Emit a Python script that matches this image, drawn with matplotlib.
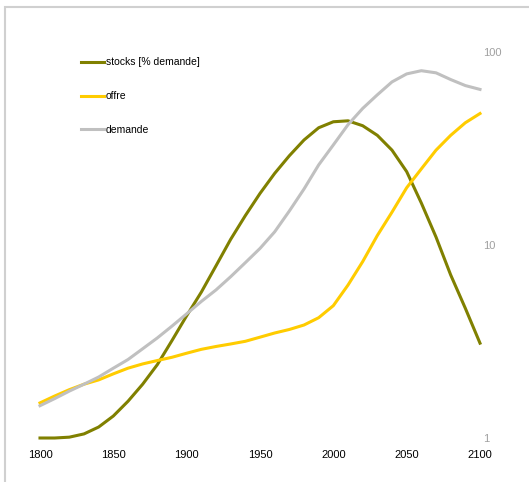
import matplotlib.pyplot as plt
from matplotlib.patches import Rectangle

plt.rcParams['font.family'] = ['Liberation Sans', 'DejaVu Sans']

years = list(range(1800, 2101, 10))
stocks = [1.0, 1.0, 1.01, 1.05, 1.14, 1.3, 1.55, 1.9, 2.4, 3.2, 4.3, 5.7, 7.8,
          10.7, 14.2, 18.5, 23.5, 29, 35, 40.5, 43.5, 44, 41.5, 37, 31, 24,
          16.5, 11, 7, 4.7, 3.1]
offre = [1.52, 1.65, 1.78, 1.9, 2.0, 2.15, 2.3, 2.42, 2.52, 2.62, 2.75, 2.88,
         2.98, 3.07, 3.17, 3.33, 3.5, 3.65, 3.85, 4.2, 4.85, 6.2, 8.2, 11.2,
         14.8, 19.8, 24.8, 31, 37, 43, 48]
demande = [1.47, 1.6, 1.75, 1.9, 2.07, 2.3, 2.55, 2.9, 3.3, 3.8, 4.4, 5.1, 5.85,
           6.85, 8.1, 9.6, 11.7, 15, 19.5, 26, 33, 42, 51, 60, 70, 77, 80, 78,
           72, 67, 64]
labels = ["stocks [% demande]", "offre", "demande"]
colors = ["#808000", "#FFCC00", "#C0C0C0"]

fig = plt.figure(figsize=(5.29, 4.82), dpi=100)
W, H = 529, 482
ax = fig.add_axes([40 / W, 1 - 438 / H, 440 / W, 386 / H])

for vals, lab, col in zip([stocks, offre, demande], labels, colors):
    ax.plot(years, vals, color=col, lw=2.2, label=lab, clip_on=False,
            solid_joinstyle='round')

ax.set_yscale('log')
ax.set_xlim(1800, 2100)
ax.set_ylim(1, 100)
ax.set_xticks(range(1800, 2101, 50))
ax.set_yticks([1, 10, 100])
ax.set_yticklabels(["1", "10", "100"])
ax.minorticks_off()
ax.yaxis.tick_right()
ax.tick_params(axis='y', length=0, pad=2, labelsize=8, labelcolor='#A0A0A0')
ax.tick_params(axis='x', length=0, pad=9, labelsize=8, labelcolor='black')
for s in ax.spines.values():
    s.set_visible(False)

fig.legend(loc='upper left', bbox_to_anchor=(76 / W, 1 - 52 / H),
           frameon=False, fontsize=7.5, handlelength=2.2, handletextpad=0.15,
           labelspacing=2.3, borderpad=0)

fig.patches.append(Rectangle((5 / W, -0.5), 2, 1.5 - 7 / H,
                             transform=fig.transFigure, fill=False,
                             edgecolor='#D0D0D0', lw=1.5))

fig.savefig("out.png", dpi=100)
